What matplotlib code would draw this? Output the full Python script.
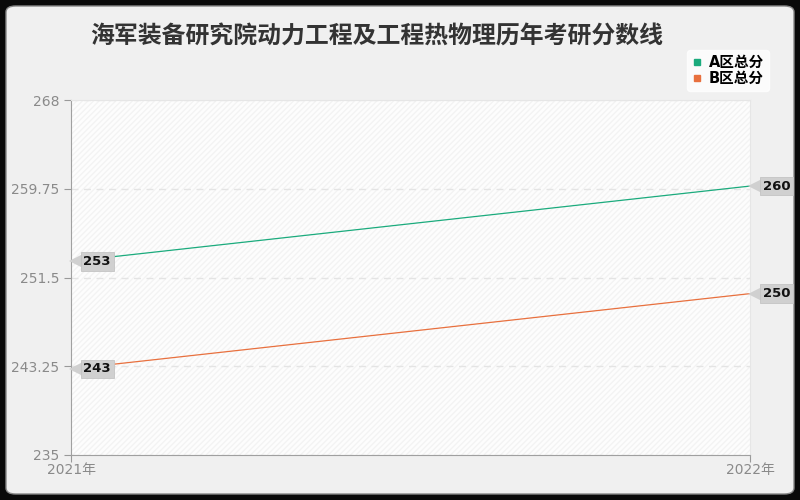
import matplotlib.pyplot as plt
import matplotlib.transforms as mtransforms
from matplotlib.patches import FancyBboxPatch
from matplotlib.lines import Line2D

plt.rcParams['font.family'] = ['DejaVu Sans', 'Noto Sans CJK SC']

years = ['2021年', '2022年']
a_scores = [253, 260]
b_scores = [243, 250]
y_ticks = [235, 243.25, 251.5, 259.75, 268]
y_labels = ['235', '243.25', '251.5', '259.75', '268']
title = '海军装备研究院动力工程及工程热物理历年考研分数线'

green = '#1bab7d'
orange = '#e8703e'

fig = plt.figure(figsize=(8, 5), dpi=100)
fig.patch.set_facecolor('#0a0a0a')

# light rounded card inside the dark frame
card = FancyBboxPatch((6 / 800, 6 / 500), 788 / 800, 488 / 500,
                      boxstyle='round,pad=0,rounding_size=0.012',
                      transform=fig.transFigure, facecolor='#f0f0f0', edgecolor='#888888',
                      linewidth=1, zorder=-10)
fig.patches.append(card)

ax = fig.add_axes([71 / 800, 45 / 500, 679 / 800, 355 / 500])
ax.set_facecolor('#fdfdfd')
ax.add_patch(plt.Rectangle((0, 0), 1, 1, transform=ax.transAxes, facecolor='none',
                           hatch='//////', edgecolor='#f3f3f3', linewidth=0, zorder=0))

x = [0, 1]
ax.plot(x, a_scores, color=green, linewidth=0.9, zorder=3)
ax.plot(x, b_scores, color=orange, linewidth=0.9, zorder=3)

# callout labels: small gray triangle pointing at the point, box to the right
tri_trans = mtransforms.offset_copy(ax.transData, fig=fig, x=5.5, y=0, units='dots')
for series in (a_scores, b_scores):
    for xi, v in zip(x, series):
        ax.plot(xi, v, marker='<', markersize=11, color='#d0d0d0', markeredgewidth=0,
                transform=tri_trans, clip_on=False, zorder=4)
        ax.annotate(str(v), (xi, v), xytext=(12.5, 0), textcoords='offset pixels',
                    ha='left', va='center', fontsize=9.5, fontweight='bold',
                    color='#111111', zorder=5, annotation_clip=False,
                    bbox=dict(boxstyle='square,pad=0.2', facecolor='#d0d0d0',
                              edgecolor='#c4c4c4', linewidth=0.6))

ax.set_xlim(0, 1)
ax.set_ylim(235, 268)
ax.set_xticks(x)
ax.set_xticklabels(years)
ax.set_yticks(y_ticks)
ax.set_yticklabels(y_labels)
ax.tick_params(axis='both', colors='#999999', labelcolor='#8a8a8a', labelsize=10, length=5)
ax.tick_params(axis='x', pad=1)

ax.grid(axis='y', color='#e4e4e4', linestyle=(0, (5, 4)), linewidth=1)
for s in ['top', 'right']:
    ax.spines[s].set_color('#e6e6e6')
for s in ['left', 'bottom']:
    ax.spines[s].set_color('#a0a0a0')

fig.text(90 / 800, 1 - 37 / 500, title, fontsize=17.2, fontweight='bold', color='#333333',
         ha='left', va='center', family=['Noto Sans CJK SC', 'DejaVu Sans'])

handles = [Line2D([], [], linestyle='none', marker='s', markersize=5, color=green),
           Line2D([], [], linestyle='none', marker='s', markersize=5, color=orange)]
leg = fig.legend(handles, ['A区总分', 'B区总分'], loc='upper right',
                 bbox_to_anchor=(776 / 800, 1 - 43 / 500), frameon=True,
                 prop={'size': 10.5, 'weight': 'bold'}, handlelength=0.7, handletextpad=0.5,
                 borderpad=0.3, labelspacing=0.1, fancybox=True)
leg.get_frame().set_facecolor('white')
leg.get_frame().set_edgecolor('white')

fig.savefig('out.png', dpi=100, facecolor=fig.get_facecolor())
